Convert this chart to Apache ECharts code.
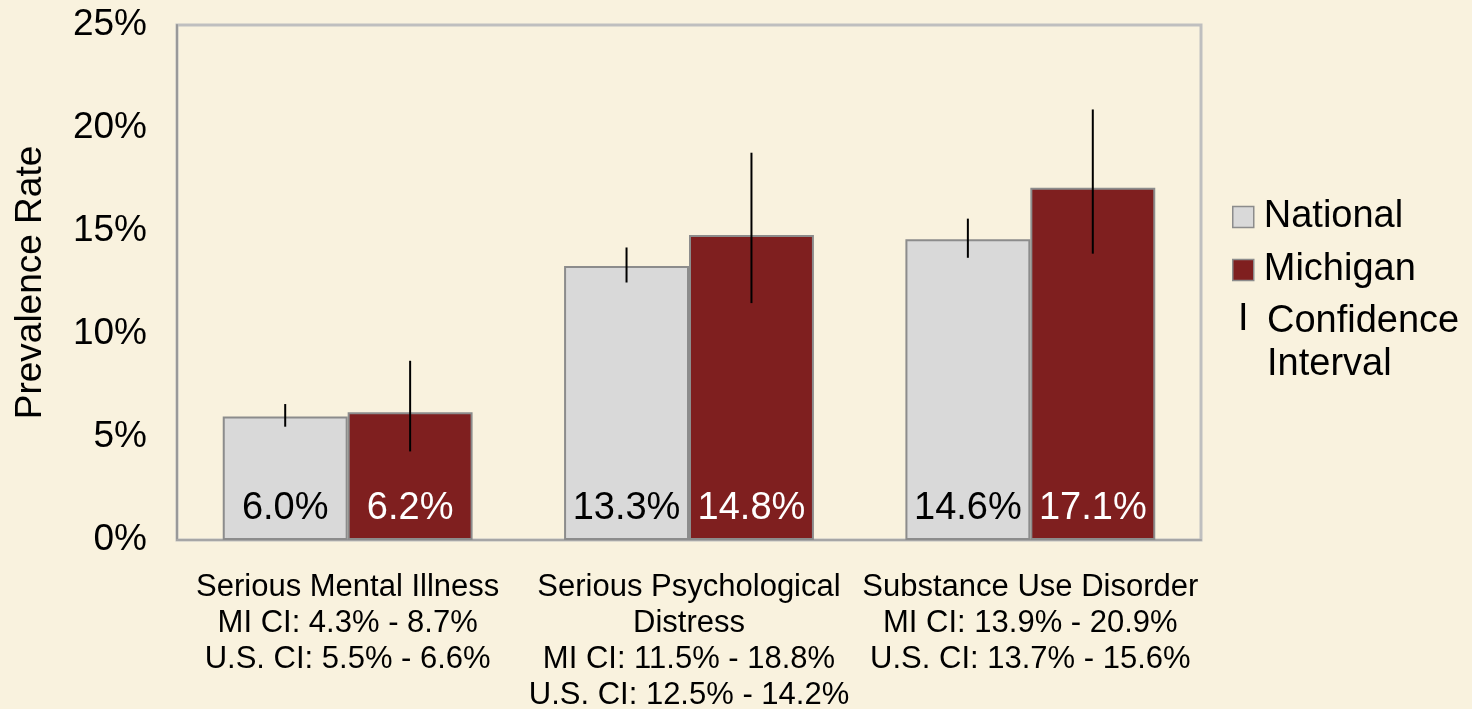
<!DOCTYPE html>
<html>
<head>
<meta charset="utf-8">
<script src="https://cdn.jsdelivr.net/npm/echarts@6/dist/echarts.min.js"></script>
<style>
  html, body { margin: 0; padding: 0; background: #F9F2DE; }
  #chart { width: 1472px; height: 709px; }
</style>
</head>
<body>
<div id="chart"></div>
<script>
const categoryNames = ['Serious Mental Illness', 'Serious Psychological\nDistress', 'Substance Use Disorder']
const national = [6.0, 13.3, 14.6]
const michigan = [6.2, 14.8, 17.1]
const nationalLow = [5.5, 12.5, 13.7]
const nationalHigh = [6.6, 14.2, 15.6]
const michiganLow = [4.3, 11.5, 13.9]
const michiganHigh = [8.7, 18.8, 20.9]
const yTicks = [0, 5, 10, 15, 20, 25]

const FONT = '"Liberation Sans", Arial, sans-serif'
const BAR_WIDTH = 0.366

const categories = categoryNames.map((name, i) =>
  name +
  '\nMI CI: ' + michiganLow[i].toFixed(1) + '% - ' + michiganHigh[i].toFixed(1) + '%' +
  '\nU.S. CI: ' + nationalLow[i].toFixed(1) + '% - ' + nationalHigh[i].toFixed(1) + '%'
)

// error bar drawn at the centre of the national (-1) or michigan (+1) bar
const errorBar = side => (params, api) => {
  const idx = api.value(0)
  const lo = api.coord([idx, api.value(1)])
  const hi = api.coord([idx, api.value(2)])
  const band = api.size([1, 0])[0]
  const x = lo[0] + side * band * BAR_WIDTH / 2
  return {
    type: 'line',
    shape: { x1: x, y1: lo[1], x2: x, y2: hi[1] },
    style: { stroke: '#000', lineWidth: 2 }
  }
}

const chart = echarts.init(document.getElementById('chart'))

chart.setOption({
  backgroundColor: '#F9F2DE',
  animation: false,
  textStyle: { fontFamily: FONT },
  grid: {
    left: 177,
    right: 271,
    top: 25,
    bottom: 169,
    outerBoundsMode: 'none',
    show: true,
    borderColor: '#BFBFBF',
    borderWidth: 3,
    backgroundColor: 'transparent'
  },
  legend: {
    orient: 'vertical',
    left: 1227,
    top: 193,
    itemWidth: 21,
    itemHeight: 21,
    itemGap: 15,
    icon: 'rect',
    data: ['National', 'Michigan'],
    textStyle: { fontSize: 38, color: '#000', fontFamily: FONT, padding: [0, 0, 0, 5] },
    itemStyle: { borderColor: '#8C8C8C', borderWidth: 1.5 }
  },
  graphic: [
    {
      type: 'text',
      left: 1238,
      top: 301,
      style: { text: 'I', fontSize: 38, fill: '#000', fontFamily: FONT }
    },
    {
      type: 'text',
      left: 1267,
      top: 300,
      style: { text: 'Confidence\nInterval', fontSize: 38, lineHeight: 43, fill: '#000', fontFamily: FONT }
    }
  ],
  xAxis: {
    type: 'category',
    data: categories,
    axisLine: { show: true, lineStyle: { color: '#A6A6A6', width: 2 } },
    axisTick: { show: false },
    axisLabel: {
      interval: 0,
      margin: 29,
      fontSize: 31,
      lineHeight: 36,
      color: '#000',
      fontFamily: FONT,
      align: 'center'
    }
  },
  yAxis: {
    type: 'value',
    min: 0,
    max: 25,
    interval: 5,
    name: 'Prevalence Rate',
    nameLocation: 'middle',
    nameGap: 128,
    nameRotate: 90,
    nameTextStyle: { fontSize: 37, color: '#000', fontFamily: FONT },
    axisLine: { show: true, lineStyle: { color: '#999999', width: 2 } },
    axisTick: { show: false },
    splitLine: { show: false },
    axisLabel: {
      margin: 30,
      fontSize: 37,
      padding: [5, 0, 0, 0],
      color: '#000',
      fontFamily: FONT,
      formatter: v => (yTicks.includes(v) ? v + '%' : '')
    }
  },
  series: [
    {
      name: 'National',
      type: 'bar',
      barWidth: (BAR_WIDTH * 100) + '%',
      barGap: '0%',
      data: national,
      itemStyle: { color: '#D9D9D9', borderColor: '#8C8C8C', borderWidth: 2 },
      label: {
        show: true,
        position: 'insideBottom',
        distance: 12,
        fontSize: 38,
        color: '#000',
        fontFamily: FONT,
        formatter: p => p.value.toFixed(1) + '%'
      }
    },
    {
      name: 'Michigan',
      type: 'bar',
      barWidth: (BAR_WIDTH * 100) + '%',
      barGap: '0%',
      data: michigan,
      itemStyle: { color: '#7F1F1F', borderColor: '#8C8C8C', borderWidth: 2 },
      label: {
        show: true,
        position: 'insideBottom',
        distance: 12,
        fontSize: 38,
        color: '#fff',
        fontFamily: FONT,
        formatter: p => p.value.toFixed(1) + '%'
      }
    },
    {
      name: 'National CI',
      type: 'custom',
      renderItem: errorBar(-1),
      encode: { x: 0, y: [1, 2] },
      data: national.map((_, i) => [i, nationalLow[i], nationalHigh[i]]),
      z: 5
    },
    {
      name: 'Michigan CI',
      type: 'custom',
      renderItem: errorBar(1),
      encode: { x: 0, y: [1, 2] },
      data: michigan.map((_, i) => [i, michiganLow[i], michiganHigh[i]]),
      z: 5
    }
  ]
})

window.addEventListener('resize', () => chart.resize())
</script>
</body>
</html>
